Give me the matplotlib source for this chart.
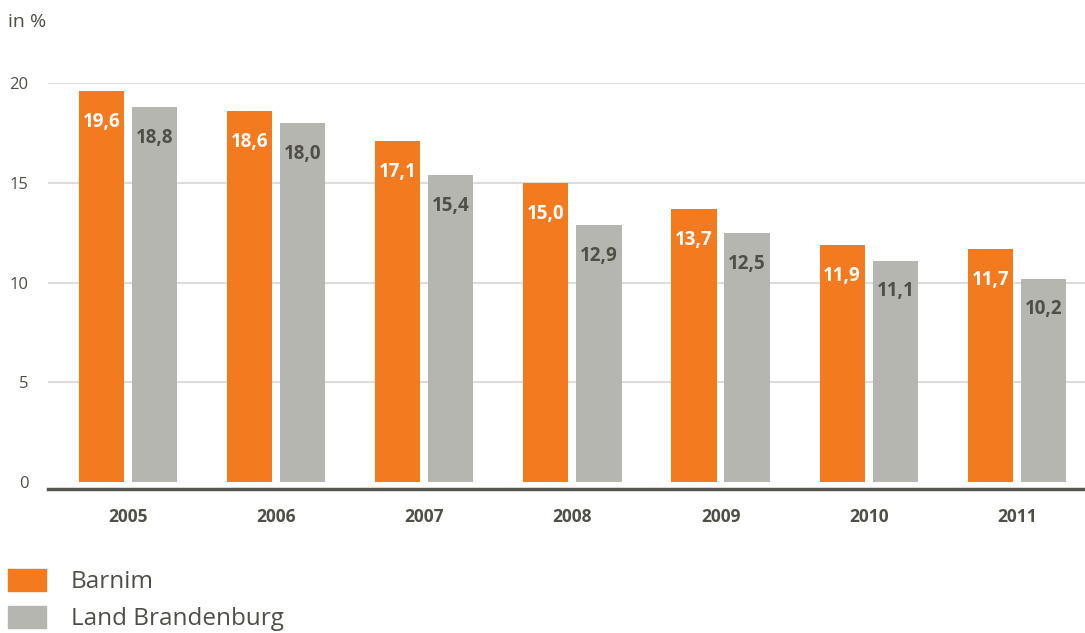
import numpy as np
import matplotlib.pyplot as plt
from matplotlib.patches import Rectangle

plt.rcParams['font.family'] = ['Open Sans', 'DejaVu Sans']

years = ['2005', '2006', '2007', '2008', '2009', '2010', '2011']
barnim = [19.6, 18.6, 17.1, 15.0, 13.7, 11.9, 11.7]
brandenburg = [18.8, 18.0, 15.4, 12.9, 12.5, 11.1, 10.2]
series_names = ['Barnim', 'Land Brandenburg']

ORANGE = '#f47a20'
GRAY = '#b6b6b0'
TEXT = '#4f4f47'

fig = plt.figure(figsize=(10.85, 6.33), dpi=100)
ax = fig.add_axes([48 / 1085, (633 - 489) / 633, 1 - 48 / 1085, (489 - 83) / 633])

x = np.arange(len(years))
w = 0.305
off = 0.179
ax.bar(x - off, barnim, w, color=ORANGE, zorder=3)
ax.bar(x + off, brandenburg, w, color=GRAY, zorder=3)

def fmt(v):
    return f'{v:.1f}'.replace('.', ',')

# value labels inside the bars
for xi, v in zip(x, barnim):
    ax.text(xi - off, v - 1.55, fmt(v), ha='center', va='center', color='white',
            fontsize=13.5, fontweight='bold', zorder=4)
for xi, v in zip(x, brandenburg):
    ax.text(xi + off, v - 1.55, fmt(v), ha='center', va='center', color=TEXT,
            fontsize=13.5, fontweight='bold', zorder=4)

ax.set_xlim(-0.54, 6.46)
ax.set_ylim(-0.35, 20)
ax.set_yticks([0, 5, 10, 15, 20])
ax.set_yticklabels(['0', '5', '10', '15', '20'])
for yv in [5, 10, 15, 20]:
    ax.axhline(yv, color='#dcdcdc', lw=1.5, zorder=1)

ax.set_xticks(x)
ax.set_xticklabels(years, fontweight='bold')
ax.tick_params(axis='x', length=0, pad=14, labelsize=12.5, labelcolor=TEXT)
ax.tick_params(axis='y', length=0, pad=14, labelsize=12, labelcolor=TEXT)

for s in ['top', 'right', 'left']:
    ax.spines[s].set_visible(False)
ax.spines['bottom'].set_color('#55554d')
ax.spines['bottom'].set_linewidth(2.5)

fig.text(8 / 1085, 1 - 22 / 633, 'in %', ha='left', va='center', fontsize=14, color=TEXT)

# legend
for i, (name, col) in enumerate(zip(series_names, [ORANGE, GRAY])):
    yc = 580 + i * 37
    fig.patches.append(Rectangle((8 / 1085, 1 - (yc + 11) / 633), 38 / 1085, 22 / 633,
                                 transform=fig.transFigure, color=col, figure=fig))
    fig.text(71 / 1085, 1 - (yc + 2) / 633, name, ha='left', va='center',
             fontsize=17.5, color=TEXT)

fig.savefig('out.png', dpi=100)
